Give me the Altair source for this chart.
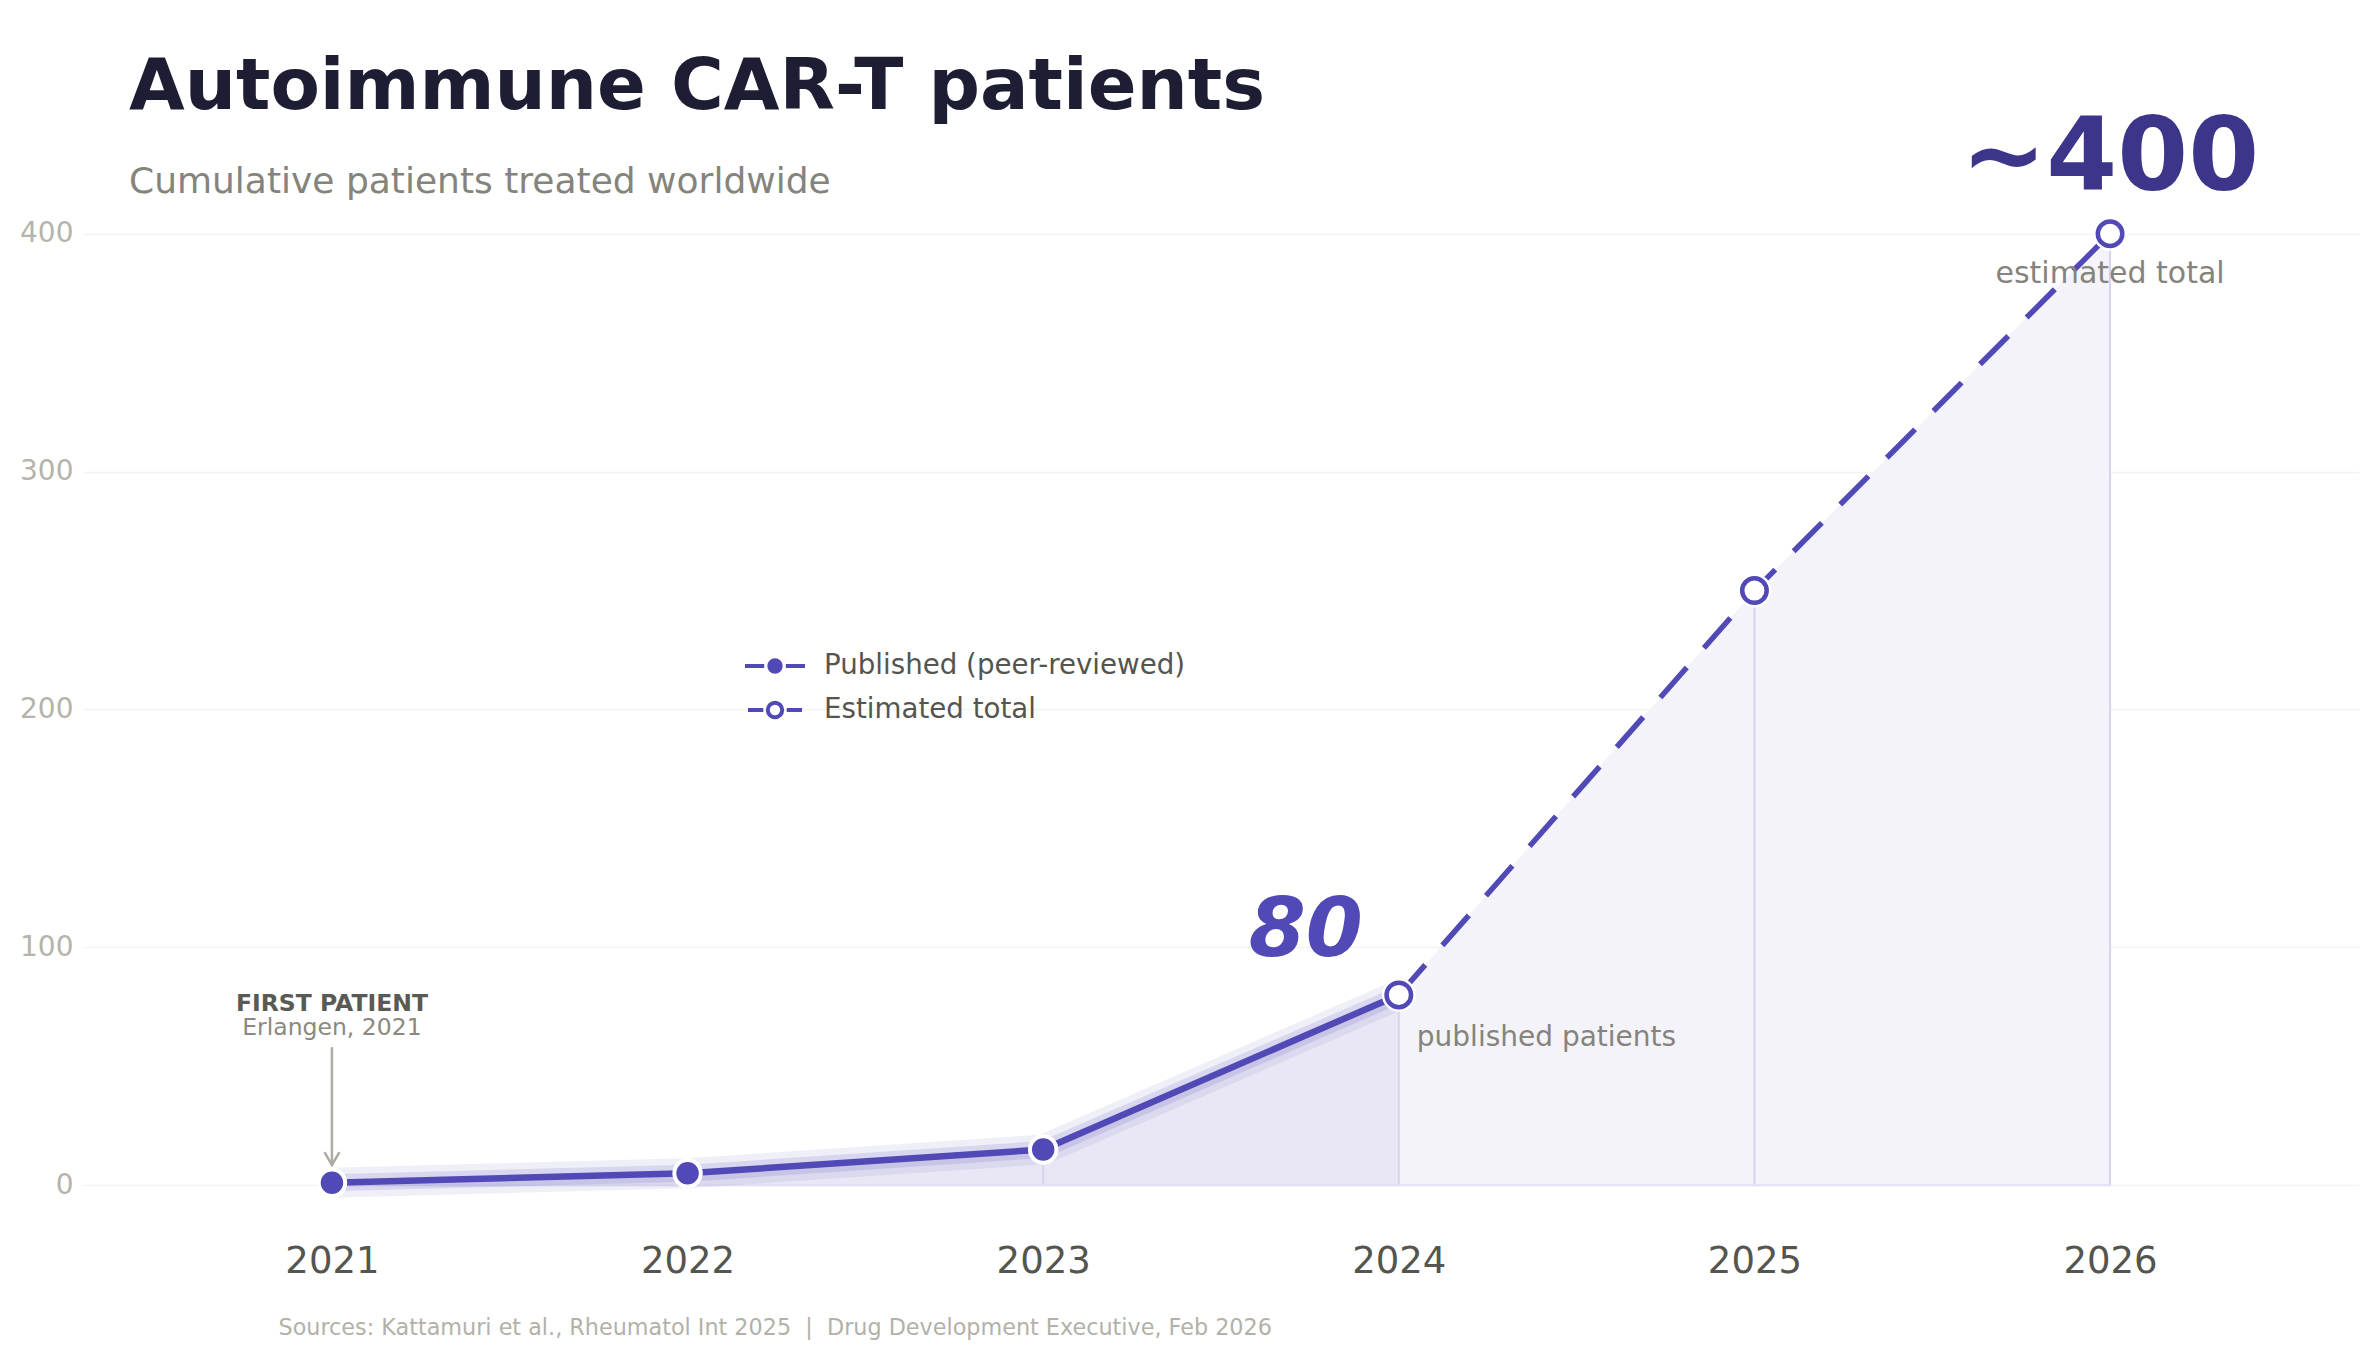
import altair as alt
import pandas as pd

# ---------------- data ----------------
pub_years = [2021, 2022, 2023, 2024]
pub_values = [1, 5, 15, 80]
est_years = [2024, 2025, 2026]
est_values = [80, 250, 400]
series_names = ["Published (peer-reviewed)", "Estimated total"]
filled_years = [2021, 2022, 2023]
filled_values = [1, 5, 15]
open_years = [2024, 2025, 2026]
open_values = [80, 250, 400]
x_ticks = [2021, 2022, 2023, 2024, 2025, 2026]
y_ticks = [0, 100, 200, 300, 400]
baseline_span = [2021, 2026]

big_label_year, big_label_value, big_label_text = 2026, 400, "~400"
big_sub_text = "estimated total"
pub_label_year, pub_label_value, pub_label_text = 2024, 80, "80"
pub_sub_text = "published patients"
first_year, first_value = 2021, 1
first_title, first_sub = "FIRST PATIENT", "Erlangen, 2021"
arrow_from, arrow_to = 58, 8.5

title_text = "Autoimmune CAR-T patients"
subtitle_text = "Cumulative patients treated worldwide"
source_text = "Sources: Kattamuri et al., Rheumatol Int 2025 \u00a0|\u00a0 Drug Development Executive, Feb 2026"

# ---------------- style ----------------
FONT = "DejaVu Sans"
PURPLE = "#5049b6"
DARK_PURPLE = "#3d3589"
GREY_TXT = "#85847c"

pub_df = pd.DataFrame({"year": pub_years, "value": pub_values})
est_df = pd.DataFrame({"year": est_years, "value": est_values})
filled_df = pd.DataFrame({"year": filled_years, "value": filled_values})
open_df = pd.DataFrame({"year": open_years, "value": open_values})
all_pts_df = pd.concat([filled_df, open_df], ignore_index=True)
base_df = pd.DataFrame({"year": [baseline_span[0]], "year2": [baseline_span[1]], "value": [0]})
legend_df = pd.DataFrame({"series": series_names, "year": [x_ticks[0]] * 2, "value": [-1000] * 2})

x_enc = alt.X(
    "year:Q",
    scale=alt.Scale(domain=[2020.3, 2026.7], nice=False, zero=False),
    axis=alt.Axis(
        values=x_ticks, format="d", title=source_text, grid=False, domain=False,
        ticks=False, tickSize=0, labelFontSize=37, labelColor="#55554f", labelFont=FONT,
        labelPadding=15, labelFlush=False,
        titleFont=FONT, titleFontSize=22.3, titleFontWeight="normal", titleColor="#b3b1a8",
        titleX=195, titleY=106, titleAlign="left", titleAnchor="start", titleBaseline="alphabetic",
    ),
)
y_enc = alt.Y(
    "value:Q",
    scale=alt.Scale(domain=[-18, 410], nice=False, zero=False),
    axis=alt.Axis(
        values=y_ticks, title=None, grid=True, gridColor="#f3f3f1", gridWidth=1.5,
        domain=False, ticks=False, tickSize=0, labelFontSize=28, labelColor="#b5b3ab",
        labelFont=FONT, labelPadding=10,
    ),
)

area_pub = alt.Chart(pub_df).mark_area(color="#e9e7f5").encode(x=x_enc, y=y_enc, y2=alt.datum(0))
area_est = alt.Chart(est_df).mark_area(color="#f4f3fa").encode(x=x_enc, y=y_enc, y2=alt.datum(0))

drops = alt.Chart(all_pts_df).mark_rule(color="#d5d3ed", strokeWidth=2).encode(
    x=x_enc, y=y_enc, y2=alt.datum(0))
baseline = alt.Chart(base_df).mark_rule(color="#e2e0f1", strokeWidth=2).encode(
    x=x_enc, x2="year2:Q", y=y_enc)

glow1 = alt.Chart(pub_df).mark_line(color=PURPLE, strokeWidth=30, opacity=0.09).encode(x=x_enc, y=y_enc)
glow2 = alt.Chart(pub_df).mark_line(color=PURPLE, strokeWidth=17, opacity=0.14).encode(x=x_enc, y=y_enc)
line_pub = alt.Chart(pub_df).mark_line(color=PURPLE, strokeWidth=6.5, strokeCap="round").encode(x=x_enc, y=y_enc)
line_est = alt.Chart(est_df).mark_line(color=PURPLE, strokeWidth=5.5, strokeDash=[40, 26]).encode(x=x_enc, y=y_enc)

rings = alt.Chart(open_df).mark_point(filled=True, color="white", size=1150, opacity=1).encode(x=x_enc, y=y_enc)
pts_filled = alt.Chart(filled_df).mark_point(filled=True, fill=PURPLE, stroke="white", size=700,
                                            strokeWidth=4, opacity=1).encode(x=x_enc, y=y_enc)
pts_open = alt.Chart(open_df).mark_point(filled=True, fill="white", stroke=PURPLE, size=600,
                                        strokeWidth=4.5, opacity=1).encode(x=x_enc, y=y_enc)

pub_path = "M-2,0H-0.72M0.72,0H2M-0.38,0A0.38,0.38 0 1,0 0.38,0A0.38,0.38 0 1,0 -0.38,0Z"
est_path = "M-1.8,0H-0.78M0.78,0H1.8M-0.48,0A0.48,0.48 0 1,0 0.48,0A0.48,0.48 0 1,0 -0.48,0Z"

leg = alt.Legend(
    title=None, orient="none", legendX=675, legendY=439, padding=0,
    symbolSize=900, labelFontSize=27.7, labelColor="#55554f", labelFont=FONT,
    labelOffset=32, rowPadding=13, symbolStrokeWidth=4, symbolStrokeColor=PURPLE,
    symbolOpacity=1, labelLimit=800,
)
legend_layer = alt.Chart(legend_df).mark_point(
    filled=True, strokeWidth=4, size=900, opacity=1, clip=True
).encode(
    x=x_enc, y=y_enc,
    fill=alt.Fill("series:N", scale=alt.Scale(domain=series_names, range=[PURPLE, "white"]), legend=leg),
    stroke=alt.Stroke("series:N", scale=alt.Scale(domain=series_names, range=[PURPLE, PURPLE]), legend=leg),
    shape=alt.Shape("series:N", scale=alt.Scale(domain=series_names, range=[pub_path, est_path]), legend=leg),
)

big_df = pd.DataFrame({"year": [big_label_year], "value": [big_label_value],
                       "t1": [big_label_text], "t2": [big_sub_text]})
publ_df = pd.DataFrame({"year": [pub_label_year], "value": [pub_label_value],
                        "t1": [pub_label_text], "t2": [pub_sub_text]})
first_df = pd.DataFrame({"year": [first_year], "value": [first_value],
                         "t1": [first_title], "t2": [first_sub]})
arrow_df = pd.DataFrame({"year": [first_year], "value": [arrow_from], "value2": [arrow_to]})
head_df = pd.DataFrame({"year": [first_year], "value": [arrow_to]})

big_txt = alt.Chart(big_df).mark_text(font=FONT, fontSize=102, fontWeight="bold", color=DARK_PURPLE,
                                      align="center", baseline="alphabetic", dy=-44).encode(x=x_enc, y=y_enc, text="t1:N")
big_sub = alt.Chart(big_df).mark_text(font=FONT, fontSize=30, color=GREY_TXT,
                                      align="center", baseline="alphabetic", dy=49).encode(x=x_enc, y=y_enc, text="t2:N")
pub_txt = alt.Chart(publ_df).mark_text(font=FONT, fontSize=82, fontWeight="bold", fontStyle="italic", color=PURPLE,
                                       align="right", baseline="alphabetic", dx=-36, dy=-39).encode(x=x_enc, y=y_enc, text="t1:N")
pub_sub = alt.Chart(publ_df).mark_text(font=FONT, fontSize=28, color=GREY_TXT,
                                       align="left", baseline="alphabetic", dx=18, dy=51).encode(x=x_enc, y=y_enc, text="t2:N")
first_t = alt.Chart(first_df).mark_text(font=FONT, fontSize=23.5, fontWeight="bold", color="#5a5a55",
                                        align="center", baseline="alphabetic", dy=-172).encode(x=x_enc, y=y_enc, text="t1:N")
first_s = alt.Chart(first_df).mark_text(font=FONT, fontSize=23.5, color="#8a897f",
                                        align="center", baseline="alphabetic", dy=-148).encode(x=x_enc, y=y_enc, text="t2:N")
arrow = alt.Chart(arrow_df).mark_rule(color="#adaba3", strokeWidth=2.5).encode(x=x_enc, y=y_enc, y2="value2:Q")
head = alt.Chart(head_df).mark_point(shape="M-1,-1.7L0,0L1,-1.7", filled=False, color="#adaba3",
                                     size=225, strokeWidth=2.5, opacity=1).encode(x=x_enc, y=y_enc)

chart = alt.layer(
    area_pub, area_est, drops, baseline, glow1, glow2, line_pub, line_est,
    rings, pts_filled, pts_open, legend_layer,
    big_txt, big_sub, pub_txt, pub_sub, first_t, first_s, arrow, head,
).properties(
    width=2276, height=1018,
    background="white",
    title=alt.TitleParams(
        text=title_text, subtitle=subtitle_text, anchor="start", frame="group", dx=46, offset=-93,
        font=FONT, fontSize=72, fontWeight="bold", color="#1d1d33",
        subtitleFont=FONT, subtitleFontSize=36, subtitleColor=GREY_TXT, subtitlePadding=41,
    ),
    autosize=alt.AutoSizeParams(type="none"),
    padding={"left": 75, "top": 202, "right": 12, "bottom": 118},
).configure_view(stroke=None, strokeWidth=0)

chart.save("out.html", embed_options={"renderer": "svg", "actions": False})
